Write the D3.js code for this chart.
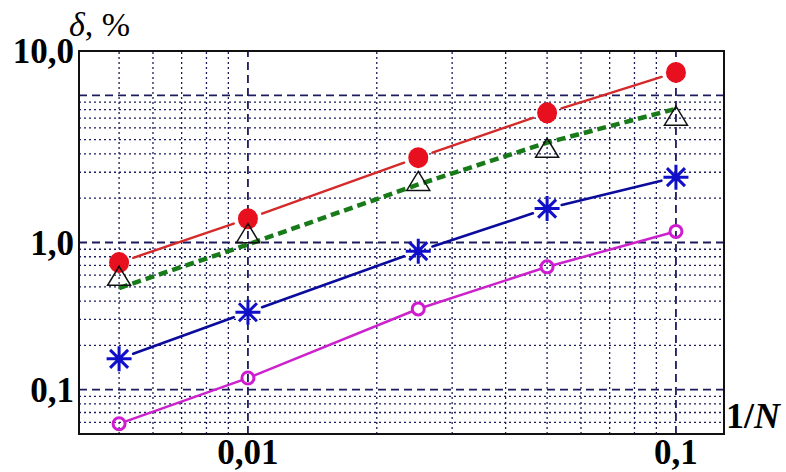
<!DOCTYPE html>
<html>
<head>
<meta charset="utf-8">
<script src="https://cdn.jsdelivr.net/npm/d3@7"></script>
<style>
  body { margin: 0; background: #fff; }
  svg { display: block; }
  text { font-family: "Liberation Serif", "Times New Roman", serif; fill: #000; }
</style>
</head>
<body>
<figure id="chart" style="margin:0"></figure>
<script>
// x positions 1/N
const xVals = [0.005, 0.01, 0.025, 0.05, 0.1]
// series (delta, %)
const redVals   = [0.73, 1.45, 3.77, 7.6, 14.3]
const triVals   = [0.58, 1.13, 2.56, 4.3, 7.1]
const greenVals = [0.49, 0.97, 2.48, 4.77, 8.1]
const starVals  = [0.162, 0.336, 0.873, 1.70, 2.78]
const magVals   = [0.0587, 0.120, 0.354, 0.683, 1.19]

const xTickVals = [0.01, 0.1]
const xTickLabels = ["0,01", "0,1"]
const yTickVals = [0.1, 1, 20]
const yTickLabels = ["0,1", "1,0", "10,0"]

const width = 786, height = 472
const margin = {top: 51, right: 62, bottom: 38, left: 79}

const svg = d3.select("figure#chart")
  .append("svg")
  .attr("width", width)
  .attr("height", height)

const x = d3.scaleLog()
  .domain([0.00403, 0.1295])
  .range([margin.left, width - margin.right])

const y = d3.scaleLog()
  .domain([0.05, 20])
  .range([height - margin.bottom, margin.top])

const isDecade = v => Math.abs(Math.log10(v) - Math.round(Math.log10(v))) < 1e-6
const gridCol = "#1c1c5c"

// grid
const gx = x.ticks().filter(v => v > x.domain()[0] * 1.01 && v < x.domain()[1] * 0.99)
const gy = y.ticks().filter(v => v > y.domain()[0] * 1.01 && v < y.domain()[1] * 0.99)

svg.append("g").selectAll("line")
  .data(gx)
  .join("line")
    .attr("x1", d => x(d)).attr("x2", d => x(d))
    .attr("y1", y.range()[0]).attr("y2", y.range()[1])
    .attr("stroke", gridCol)
    .attr("stroke-width", d => isDecade(d) ? 1.8 : 1.3)
    .attr("stroke-dasharray", d => isDecade(d) ? "8,5" : "2,3")

svg.append("g").selectAll("line")
  .data(gy)
  .join("line")
    .attr("y1", d => y(d)).attr("y2", d => y(d))
    .attr("x1", x.range()[0]).attr("x2", x.range()[1])
    .attr("stroke", gridCol)
    .attr("stroke-width", d => isDecade(d) ? 1.8 : 1.3)
    .attr("stroke-dasharray", d => isDecade(d) ? "8,5" : "2,3")

// frame
svg.append("rect")
  .attr("x", x.range()[0])
  .attr("y", y.range()[1])
  .attr("width", x.range()[1] - x.range()[0])
  .attr("height", y.range()[0] - y.range()[1])
  .attr("fill", "none")
  .attr("stroke", "#111")
  .attr("stroke-width", 2)

// segments between markers, shortened by a gap at each end
function gapSegments(vals, gap) {
  let segs = []
  for (let i = 0; i < vals.length - 1; i++) {
    let x0 = x(xVals[i]), y0 = y(vals[i])
    let x1 = x(xVals[i + 1]), y1 = y(vals[i + 1])
    let len = Math.hypot(x1 - x0, y1 - y0)
    let ux = (x1 - x0) / len, uy = (y1 - y0) / len
    segs.push([x0 + ux * gap, y0 + uy * gap, x1 - ux * gap, y1 - uy * gap])
  }
  return segs
}

function drawSegs(vals, gap, color, w) {
  svg.append("g").selectAll("line")
    .data(gapSegments(vals, gap))
    .join("line")
      .attr("x1", d => d[0]).attr("y1", d => d[1])
      .attr("x2", d => d[2]).attr("y2", d => d[3])
      .attr("stroke", color)
      .attr("stroke-width", w)
      .attr("stroke-linecap", "round")
}

const pts = vals => vals.map((v, i) => [xVals[i], v])

// red line + filled circles
drawSegs(redVals, 15, "#d42a2a", 2.4)
svg.append("g").selectAll("ellipse")
  .data(pts(redVals))
  .join("ellipse")
    .attr("cx", d => x(d[0])).attr("cy", d => y(d[1]))
    .attr("rx", 10).attr("ry", 10.5)
    .attr("fill", "#e8101e")

// green dashed line
svg.append("path")
  .datum(pts(greenVals))
  .attr("fill", "none")
  .attr("stroke", "#187a18")
  .attr("stroke-width", 4.5)
  .attr("stroke-dasharray", "9,5")
  .attr("d", d3.line().x(d => x(d[0])).y(d => y(d[1])))

// open triangles
svg.append("g").selectAll("path")
  .data(pts(triVals))
  .join("path")
    .attr("transform", d => `translate(${x(d[0])},${y(d[1])})`)
    .attr("d", "M0,-11L11.5,8L-11.5,8Z")
    .attr("fill", "none")
    .attr("stroke", "#111")
    .attr("stroke-width", 1.5)

// blue line + asterisks
drawSegs(starVals, 15, "#0c0c9c", 2.6)
const starPath = (() => {
  const p = d3.path(), r = 12.5, a = r * 0.72
  p.moveTo(0, -r); p.lineTo(0, r)
  p.moveTo(-r, 0); p.lineTo(r, 0)
  p.moveTo(-a, -a); p.lineTo(a, a)
  p.moveTo(-a, a); p.lineTo(a, -a)
  return p.toString()
})()
svg.append("g").selectAll("path")
  .data(pts(starVals))
  .join("path")
    .attr("transform", d => `translate(${x(d[0])},${y(d[1])})`)
    .attr("d", starPath)
    .attr("stroke", "#1010c8")
    .attr("stroke-width", 3)

// magenta line + open circles
drawSegs(magVals, 7, "#cc22cc", 2.5)
svg.append("g").selectAll("circle")
  .data(pts(magVals))
  .join("circle")
    .attr("cx", d => x(d[0])).attr("cy", d => y(d[1]))
    .attr("r", 6)
    .attr("fill", "none")
    .attr("stroke", "#d01cd0")
    .attr("stroke-width", 3)

// tick labels
svg.append("g").selectAll("text")
  .data(xTickVals)
  .join("text")
    .attr("x", d => x(d))
    .attr("y", 464)
    .attr("text-anchor", "middle")
    .style("font-size", "35px")
    .style("font-weight", "bold")
    .text((d, i) => xTickLabels[i])

svg.append("g").selectAll("text")
  .data(yTickVals)
  .join("text")
    .attr("x", 74)
    .attr("y", d => y(d) + 12)
    .attr("text-anchor", "end")
    .style("font-size", "35px")
    .style("font-weight", "bold")
    .text((d, i) => yTickLabels[i])

// axis titles
const yTitle = svg.append("text")
  .attr("x", 69)
  .attr("y", 36)
  .style("font-size", "34px")
yTitle.append("tspan").style("font-style", "italic").text("δ")
yTitle.append("tspan").text(", %")

const xTitle = svg.append("text")
  .attr("x", 726)
  .attr("y", 428)
  .style("font-size", "36px")
  .style("font-weight", "bold")
xTitle.append("tspan").text("1/")
xTitle.append("tspan").style("font-style", "italic").text("N")
</script>
</body>
</html>
